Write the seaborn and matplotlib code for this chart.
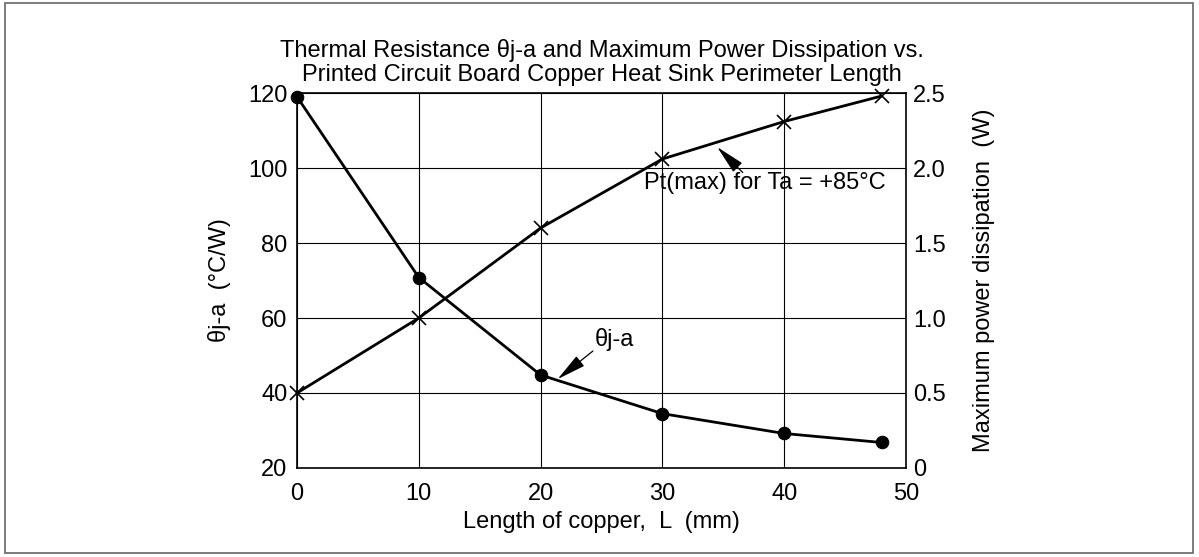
import numpy as np
import pandas as pd
import matplotlib
matplotlib.use("Agg")
import matplotlib.pyplot as plt
import seaborn as sns
from matplotlib.patches import Rectangle

# data
length_mm = [0, 10, 20, 30, 40, 48]
theta_ja = [119, 70.8, 44.8, 34.5, 29.2, 26.8]
pt_max = [0.5, 1.0, 1.6, 2.06, 2.31, 2.48]

x_ticks = [0, 10, 20, 30, 40, 50]
left_ticks = [20, 40, 60, 80, 100, 120]
right_ticks = [0, 0.5, 1.0, 1.5, 2.0, 2.5]
right_labels = ["0", "0.5", "1.0", "1.5", "2.0", "2.5"]

sns.set_theme(style="white")
plt.rcParams["font.family"] = ["Liberation Sans", "DejaVu Sans"]
plt.rcParams["text.color"] = "black"
plt.rcParams["axes.labelcolor"] = "black"
plt.rcParams["xtick.color"] = "black"
plt.rcParams["ytick.color"] = "black"

FS = 17

df = pd.DataFrame({"L": length_mm, "theta": theta_ja, "pt": pt_max})

fig = plt.figure(figsize=(11.99, 5.57), dpi=100)
ax = fig.add_axes([0.2477, 0.1598, 0.5079, 0.6732])

sns.lineplot(data=df, x="L", y="theta", ax=ax, color="black", lw=2,
             marker="o", markersize=9, markeredgecolor="black", clip_on=False, zorder=5)
ax.set_xlim(0, 50)
ax.set_ylim(20, 120)
ax.set_xticks(x_ticks)
ax.set_yticks(left_ticks)
ax.grid(True, color="black", lw=0.8)
for s in ax.spines.values():
    s.set_color("black")
    s.set_linewidth(1.2)
ax.tick_params(axis="x", labelsize=FS, colors="black", length=0, pad=11)
ax.tick_params(axis="y", labelsize=FS, colors="black", length=0, pad=7)
ax.set_xlabel("Length of copper,  L  (mm)", fontsize=FS, labelpad=4)
ax.set_ylabel("\u03b8j-a  (\u00b0C/W)", fontsize=FS, labelpad=12)

ax2 = ax.twinx()
sns.lineplot(data=df, x="L", y="pt", ax=ax2, color="black", lw=2,
             marker="x", markersize=10, markeredgewidth=1.2, markeredgecolor="black",
             clip_on=False, zorder=5)
ax2.set_ylim(0, 2.5)
ax2.set_yticks(right_ticks)
ax2.set_yticklabels(right_labels)
ax2.tick_params(axis="y", labelsize=FS, colors="black", length=0, pad=5)
ax2.set_ylabel("Maximum power dissipation  (W)", fontsize=FS, labelpad=20)
ax2.grid(False)
for s in ax2.spines.values():
    s.set_visible(False)

ax.set_title("Thermal Resistance \u03b8j-a and Maximum Power Dissipation vs.\n"
             "Printed Circuit Board Copper Heat Sink Perimeter Length",
             fontsize=FS, pad=9, linespacing=1.1)

arrow = dict(arrowstyle="-|>,head_length=1.4,head_width=0.3", mutation_scale=13,
             color="black", lw=0.9, shrinkA=0, shrinkB=0)

# theta j-a callout
ax.annotate("", xy=(21.4, 43.7), xytext=(24.3, 51.2), arrowprops=arrow)
ax.text(26.1, 54.4, "\u03b8j-a", ha="center", va="center", fontsize=FS)

# Pt(max) callout
ax2.annotate("", xy=(34.5, 2.14), xytext=(36.6, 1.97), arrowprops=arrow)
ax2.text(38.4, 1.9, "Pt(max) for Ta = +85\u00b0C", ha="center", va="center", fontsize=FS)

fig.patches.append(Rectangle((0.004, 0.007), 0.991, 0.987, transform=fig.transFigure,
                             fill=False, edgecolor="#666666", lw=1.2))

fig.savefig("out.png", dpi=100)
